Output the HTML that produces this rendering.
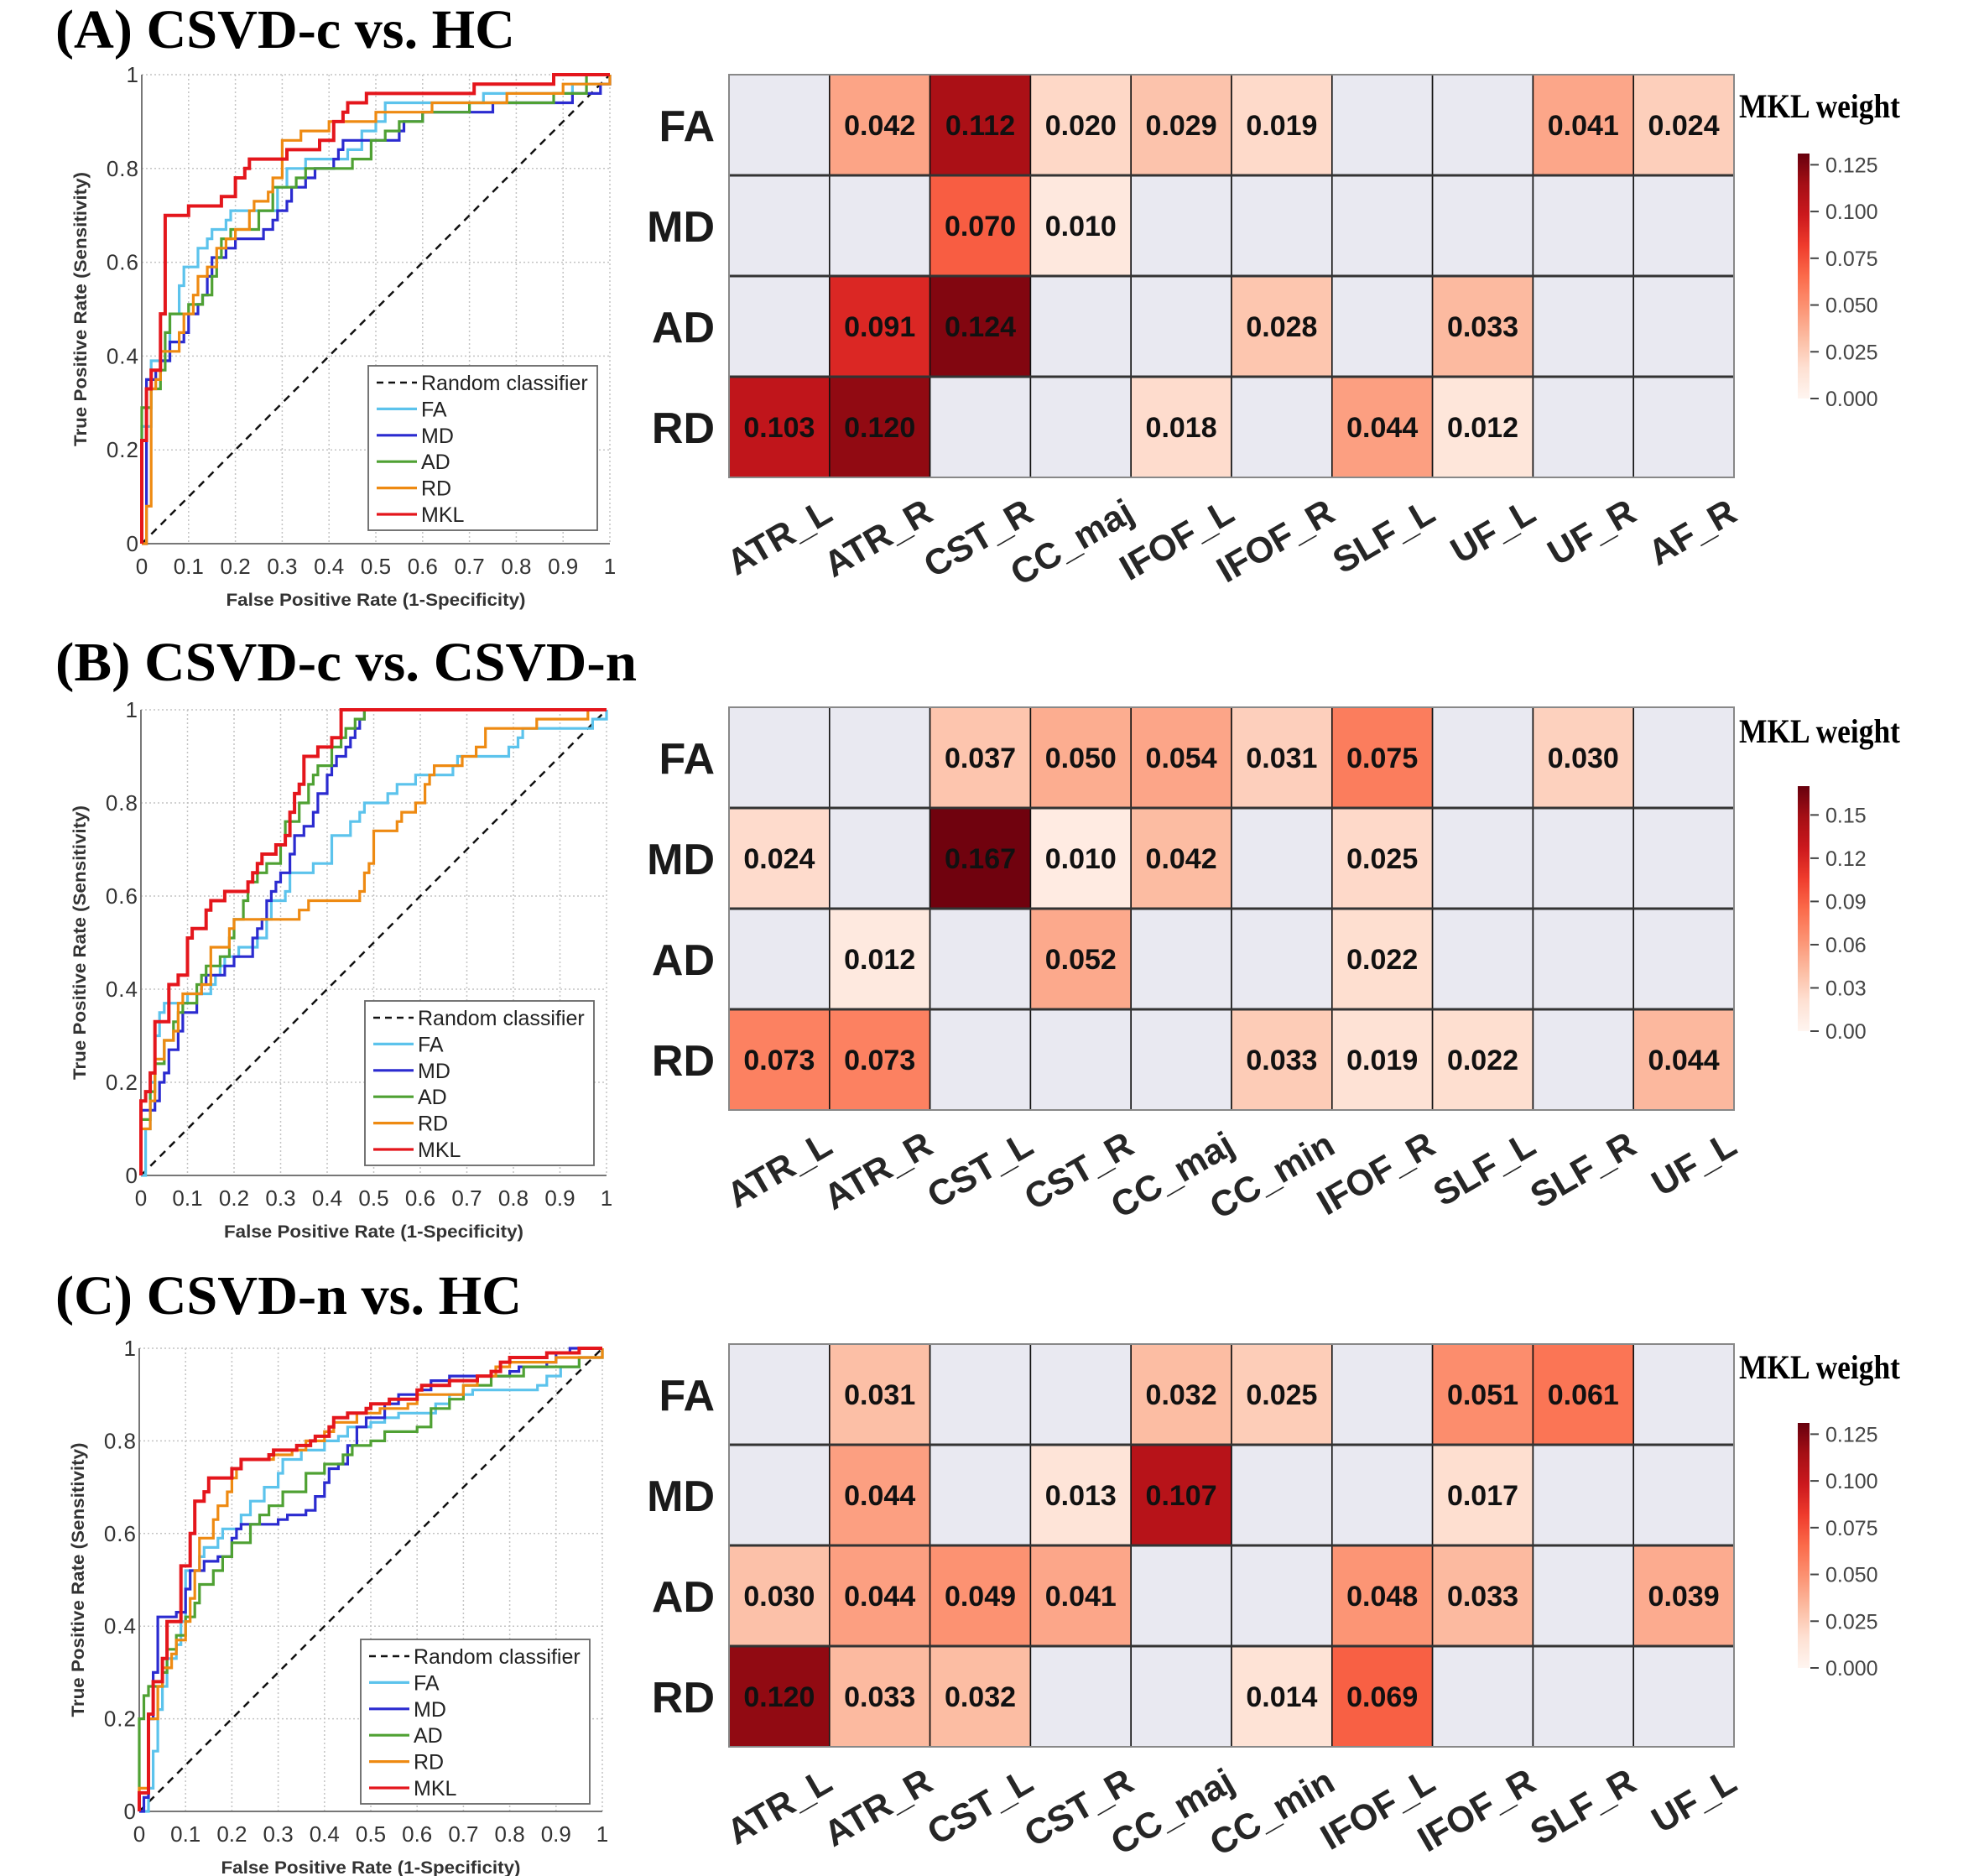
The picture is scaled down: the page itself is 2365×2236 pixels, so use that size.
<!DOCTYPE html>
<html><head><meta charset="utf-8"><style>
html,body{margin:0;padding:0;background:#fff;}
svg{display:block;}
</style></head><body>
<svg id="fig" xmlns="http://www.w3.org/2000/svg" width="2365" height="2236" viewBox="0 0 2365 2236">
<rect x="0" y="0" width="2365" height="2236" fill="#fff"/>
<g id="root"></g>
</svg>
<script>
// ---------- Heatmap data ----------
const rowNames = ["FA","MD","AD","RD"];
const colsA = ["ATR_L","ATR_R","CST_R","CC_maj","IFOF_L","IFOF_R","SLF_L","UF_L","UF_R","AF_R"];
const valsA_FA = [null,0.042,0.112,0.020,0.029,0.019,null,null,0.041,0.024];
const valsA_MD = [null,null,0.070,0.010,null,null,null,null,null,null];
const valsA_AD = [null,0.091,0.124,null,null,0.028,null,0.033,null,null];
const valsA_RD = [0.103,0.120,null,null,0.018,null,0.044,0.012,null,null];
const colsB = ["ATR_L","ATR_R","CST_L","CST_R","CC_maj","CC_min","IFOF_R","SLF_L","SLF_R","UF_L"];
const valsB_FA = [null,null,0.037,0.050,0.054,0.031,0.075,null,0.030,null];
const valsB_MD = [0.024,null,0.167,0.010,0.042,null,0.025,null,null,null];
const valsB_AD = [null,0.012,null,0.052,null,null,0.022,null,null,null];
const valsB_RD = [0.073,0.073,null,null,null,0.033,0.019,0.022,null,0.044];
const colsC = ["ATR_L","ATR_R","CST_L","CST_R","CC_maj","CC_min","IFOF_L","IFOF_R","SLF_R","UF_L"];
const valsC_FA = [null,0.031,null,null,0.032,0.025,null,0.051,0.061,null];
const valsC_MD = [null,0.044,null,0.013,0.107,null,null,0.017,null,null];
const valsC_AD = [0.030,0.044,0.049,0.041,null,null,0.048,0.033,null,0.039];
const valsC_RD = [0.120,0.033,0.032,null,null,0.014,0.069,null,null,null];
const cbarMaxA = 0.131, cbarMaxB = 0.170, cbarMaxC = 0.131;
const cbarTicksA = [0,0.025,0.05,0.075,0.1,0.125];
const cbarTicksB = [0,0.03,0.06,0.09,0.12,0.15];
const cbarTicksC = [0,0.025,0.05,0.075,0.1,0.125];

// ---------- ROC data (FPR / TPR step vertices) ----------
const A_FA_fpr=[0,0.02,0.06,0.08,0.09,0.12,0.14,0.15,0.18,0.19,0.29,0.31,0.35,0.44,0.47,0.50,0.52,0.56,0.73,0.92,1];
const A_FA_tpr=[0.25,0.39,0.49,0.55,0.59,0.63,0.65,0.67,0.69,0.71,0.76,0.80,0.82,0.84,0.88,0.90,0.94,0.94,0.96,0.98,1];
const A_MD_fpr=[0.01,0.03,0.04,0.06,0.09,0.10,0.12,0.13,0.14,0.15,0.18,0.20,0.26,0.28,0.29,0.31,0.32,0.35,0.37,0.41,0.42,0.43,0.50,0.55,0.56,0.60,0.75,0.92,0.98,1];
const A_MD_tpr=[0.35,0.37,0.39,0.43,0.45,0.49,0.51,0.53,0.57,0.61,0.63,0.65,0.67,0.69,0.71,0.73,0.76,0.78,0.80,0.82,0.84,0.86,0.86,0.88,0.90,0.92,0.94,0.96,0.98,1];
const A_AD_fpr=[0,0.02,0.04,0.05,0.06,0.10,0.13,0.15,0.16,0.17,0.19,0.25,0.28,0.33,0.35,0.45,0.49,0.52,0.55,0.60,0.70,0.88,0.95,1];
const A_AD_tpr=[0.29,0.33,0.37,0.45,0.49,0.51,0.53,0.57,0.61,0.65,0.67,0.71,0.76,0.78,0.80,0.82,0.86,0.88,0.90,0.92,0.94,0.96,1,1];
const A_RD_fpr=[0.01,0.02,0.03,0.04,0.08,0.09,0.11,0.12,0.14,0.16,0.18,0.20,0.23,0.24,0.27,0.28,0.30,0.30,0.34,0.40,0.50,0.62,0.78,0.90,1];
const A_RD_tpr=[0.08,0.33,0.35,0.41,0.45,0.49,0.53,0.57,0.59,0.63,0.65,0.67,0.71,0.73,0.75,0.78,0.82,0.86,0.88,0.90,0.92,0.94,0.96,0.98,1];
const A_MKL_fpr=[0,0.01,0.02,0.04,0.05,0.10,0.17,0.20,0.22,0.23,0.31,0.38,0.41,0.43,0.44,0.48,0.71,0.88,1];
const A_MKL_tpr=[0.22,0.33,0.37,0.49,0.70,0.72,0.74,0.78,0.80,0.82,0.84,0.86,0.90,0.92,0.94,0.96,0.98,1,1];

const B_FA_fpr=[0.01,0.02,0.03,0.04,0.05,0.10,0.15,0.16,0.17,0.18,0.21,0.25,0.27,0.28,0.31,0.32,0.37,0.41,0.45,0.47,0.48,0.53,0.55,0.59,0.67,0.68,0.79,0.81,0.82,0.97,1];
const B_FA_tpr=[0.10,0.20,0.30,0.35,0.37,0.39,0.41,0.43,0.45,0.47,0.49,0.51,0.55,0.59,0.61,0.65,0.67,0.73,0.76,0.78,0.80,0.82,0.84,0.86,0.88,0.90,0.92,0.94,0.96,0.98,1];
const B_MD_fpr=[0,0.03,0.04,0.05,0.06,0.08,0.09,0.12,0.13,0.14,0.18,0.20,0.24,0.25,0.26,0.27,0.28,0.29,0.30,0.32,0.33,0.35,0.37,0.38,0.40,0.41,0.42,0.44,0.45,0.46,0.47,0.48,1];
const B_MD_tpr=[0.14,0.16,0.20,0.22,0.27,0.31,0.35,0.39,0.41,0.43,0.45,0.47,0.51,0.53,0.55,0.59,0.61,0.63,0.65,0.69,0.73,0.75,0.78,0.82,0.86,0.88,0.90,0.92,0.94,0.96,0.98,1,1];
const B_AD_fpr=[0,0.02,0.03,0.05,0.07,0.08,0.09,0.12,0.13,0.14,0.17,0.19,0.20,0.22,0.23,0.25,0.27,0.30,0.31,0.34,0.36,0.37,0.38,0.41,0.43,0.44,0.46,0.48,1];
const B_AD_tpr=[0.12,0.18,0.24,0.29,0.33,0.35,0.37,0.41,0.43,0.45,0.47,0.51,0.55,0.59,0.63,0.65,0.67,0.71,0.76,0.80,0.84,0.86,0.88,0.92,0.94,0.96,0.98,1,1];
const B_RD_fpr=[0,0.02,0.03,0.05,0.07,0.08,0.09,0.13,0.15,0.15,0.19,0.19,0.20,0.34,0.36,0.47,0.48,0.49,0.50,0.55,0.56,0.59,0.61,0.62,0.63,0.69,0.72,0.74,0.85,0.96,1];
const B_RD_tpr=[0.10,0.16,0.25,0.29,0.31,0.37,0.39,0.41,0.45,0.49,0.51,0.53,0.55,0.57,0.59,0.61,0.65,0.67,0.74,0.76,0.78,0.80,0.84,0.86,0.88,0.90,0.92,0.96,0.98,1,1];
const B_MKL_fpr=[0,0.01,0.02,0.03,0.03,0.06,0.06,0.08,0.10,0.11,0.14,0.14,0.15,0.18,0.23,0.24,0.25,0.26,0.29,0.31,0.32,0.33,0.34,0.35,0.38,0.41,0.43,1];
const B_MKL_tpr=[0.16,0.18,0.22,0.27,0.33,0.37,0.41,0.43,0.51,0.53,0.55,0.57,0.59,0.61,0.63,0.65,0.67,0.69,0.71,0.73,0.78,0.82,0.84,0.90,0.92,0.94,1,1];

const C_FA_fpr=[0.02,0.03,0.04,0.05,0.06,0.08,0.09,0.10,0.13,0.14,0.17,0.18,0.22,0.24,0.27,0.30,0.31,0.35,0.40,0.43,0.45,0.50,0.53,0.56,0.64,0.67,0.72,0.86,0.88,0.91,0.95,1];
const C_FA_tpr=[0.05,0.13,0.22,0.27,0.33,0.36,0.41,0.52,0.55,0.57,0.59,0.61,0.64,0.67,0.70,0.73,0.76,0.78,0.80,0.81,0.83,0.84,0.85,0.86,0.88,0.90,0.91,0.92,0.94,0.96,0.98,1];
const C_MD_fpr=[0.01,0.02,0.03,0.04,0.08,0.10,0.11,0.14,0.17,0.20,0.21,0.22,0.30,0.32,0.36,0.38,0.40,0.41,0.43,0.45,0.47,0.49,0.53,0.56,0.60,0.63,0.67,0.75,0.80,0.82,0.88,0.90,0.93,1];
const C_MD_tpr=[0.03,0.20,0.30,0.42,0.43,0.48,0.52,0.54,0.55,0.59,0.61,0.62,0.63,0.64,0.65,0.68,0.71,0.74,0.75,0.79,0.83,0.85,0.88,0.90,0.91,0.93,0.94,0.94,0.95,0.96,0.97,0.99,1,1];
const C_AD_fpr=[0,0.01,0.02,0.05,0.06,0.08,0.10,0.12,0.13,0.16,0.18,0.20,0.24,0.26,0.28,0.31,0.36,0.40,0.44,0.46,0.50,0.53,0.60,0.63,0.67,0.70,0.76,0.83,0.95,1];
const C_AD_tpr=[0.20,0.25,0.27,0.30,0.35,0.38,0.42,0.45,0.49,0.52,0.55,0.58,0.62,0.64,0.66,0.69,0.73,0.75,0.77,0.79,0.80,0.82,0.83,0.87,0.89,0.92,0.94,0.96,0.98,1];
const C_RD_fpr=[0,0.02,0.04,0.05,0.07,0.08,0.10,0.11,0.12,0.13,0.16,0.17,0.19,0.20,0.21,0.22,0.29,0.33,0.36,0.40,0.42,0.47,0.52,0.58,0.60,0.70,0.73,0.77,0.80,0.90,1];
const C_RD_tpr=[0.05,0.20,0.27,0.31,0.34,0.37,0.41,0.46,0.52,0.59,0.63,0.66,0.69,0.72,0.74,0.76,0.77,0.78,0.80,0.82,0.84,0.86,0.87,0.88,0.90,0.92,0.94,0.96,0.97,0.98,1];
const C_MKL_fpr=[0,0.02,0.03,0.05,0.06,0.09,0.11,0.11,0.12,0.14,0.15,0.20,0.22,0.28,0.29,0.34,0.37,0.38,0.41,0.42,0.45,0.49,0.50,0.54,0.60,0.61,0.67,0.73,0.76,0.78,0.80,0.88,0.95,1];
const C_MKL_tpr=[0.04,0.21,0.28,0.33,0.41,0.53,0.54,0.60,0.67,0.69,0.72,0.74,0.76,0.77,0.78,0.79,0.80,0.81,0.83,0.85,0.86,0.87,0.88,0.89,0.91,0.92,0.93,0.94,0.95,0.97,0.98,0.99,1,1];

const xTickVals = [0,0.1,0.2,0.3,0.4,0.5,0.6,0.7,0.8,0.9,1];
const xTickLabels = ["0","0.1","0.2","0.3","0.4","0.5","0.6","0.7","0.8","0.9","1"];
const yTickVals = [0,0.2,0.4,0.6,0.8,1];
const yTickLabels = ["0","0.2","0.4","0.6","0.8","1"];
const seriesNames = ["FA","MD","AD","RD","MKL"];
const seriesColors = ["#5cc3ec","#2b2bd0","#4fa133","#ee8a12","#e4161c"];

// ---------- helpers ----------
const NS="http://www.w3.org/2000/svg";
const root=document.getElementById('root');
function mk(tag,attrs,parent){const e=document.createElementNS(NS,tag);for(const k in attrs)e.setAttribute(k,attrs[k]);(parent||root).appendChild(e);return e;}
const REDS=["#fff5f0","#fee0d2","#fcbba1","#fc9272","#fb6a4a","#ef3b2c","#cb181d","#a50f15","#67000d"];
function hex(c){return [parseInt(c.slice(1,3),16),parseInt(c.slice(3,5),16),parseInt(c.slice(5,7),16)];}
function reds(t){t=Math.max(0,Math.min(1,t));const p=t*8;const i=Math.min(7,Math.floor(p));const f=p-i;const a=hex(REDS[i]),b=hex(REDS[i+1]);return "rgb("+a.map((v,k)=>Math.round(v+(b[k]-v)*f)).join(",")+")";}

// ---------- titles ----------
const titles=[["(A) CSVD-c vs. HC",57,548],["(B) CSVD-c vs. CSVD-n",811,693],["(C) CSVD-n vs. HC",1566,556]];
titles.forEach((t,i)=>{
  const el=mk('text',{x:66,y:t[1],'font-family':'"Liberation Serif",serif','font-weight':'bold','font-size':66,fill:'#000',textLength:t[2],lengthAdjust:'spacingAndGlyphs'});
  
  
  el.textContent=t[0];
});

// ---------- heatmaps ----------
function heatmap(tag,top,cols,rows,cmax,ticks,dec,mklY){
  const g=mk('g',{});
  
  
  const X0=869,W=1198,H=480,cw=W/cols.length,ch=H/4;
  rows.forEach((row,r)=>{
    row.forEach((v,c)=>{
      const rc=mk('rect',{x:X0+c*cw,y:top+r*ch,width:cw,height:ch,fill:v==null?'#e9e9f1':reds(v/cmax),stroke:'#111','stroke-width':1.6},g);
      
      
      if(v!=null){
        const t=mk('text',{x:X0+c*cw+cw/2,y:top+r*ch+ch/2+12,'text-anchor':'middle','font-family':'"Liberation Sans",sans-serif','font-weight':'bold','font-size':34,fill:'#111'},g);
        
        
        t.textContent=v.toFixed(3);
      }
    });
  });
  for(let r=1;r<4;r++){mk('line',{x1:X0,x2:X0+W,y1:top+r*ch,y2:top+r*ch,stroke:'#333','stroke-width':3},g);}
  mk('rect',{x:X0,y:top,width:W,height:H,fill:'none',stroke:'#888','stroke-width':2},g);
  rowNames.forEach((n,r)=>{
    const t=mk('text',{x:852,y:top+r*ch+ch/2+19,'text-anchor':'end','font-family':'"Liberation Sans",sans-serif','font-weight':'bold','font-size':52,fill:'#1a1a1a'},g);
    
    
    t.textContent=n;
  });
  cols.forEach((n,c)=>{
    const ex=X0+c*cw+cw/2+66, ey=top+H+50;
    const t=mk('text',{x:ex,y:ey,'text-anchor':'end',transform:'rotate(-30 '+ex+' '+ey+')','font-family':'"Liberation Sans",sans-serif','font-weight':'bold','font-size':43,fill:'#262626'},g);
    
    
    t.textContent=n;
  });
  // colorbar
  const cb=mk('g',{},g);
  
  
  const zeroY=top+386, len=292, cx=2143;
  const gid='grad'+tag;
  const defs=mk('defs',{},cb);
  const lg=mk('linearGradient',{id:gid,x1:0,y1:1,x2:0,y2:0},defs);
  for(let i=0;i<=8;i++){mk('stop',{offset:(i/8),'stop-color':REDS[i]},lg);}
  mk('rect',{x:cx,y:zeroY-len,width:14,height:len,fill:'url(#'+gid+')'},cb);
  ticks.forEach(tv=>{
    const y=zeroY-tv/cmax*len;
    mk('line',{x1:cx+15,x2:cx+25,y1:y,y2:y,stroke:'#444','stroke-width':2},cb);
    const t=mk('text',{x:cx+33,y:y+9,'font-family':'"Liberation Sans",sans-serif','font-size':25,fill:'#444'},cb);
    
    
    t.textContent=tv.toFixed(dec);
  });
  const mt=mk('text',{x:2073,y:mklY,'font-family':'"Liberation Serif",serif','font-weight':'bold','font-size':40,fill:'#000',textLength:192,lengthAdjust:'spacingAndGlyphs'},g);
  
  
  mt.textContent='MKL weight';
}
heatmap('a',89,colsA,[valsA_FA,valsA_MD,valsA_AD,valsA_RD],cbarMaxA,cbarTicksA,3,140);
heatmap('b',843,colsB,[valsB_FA,valsB_MD,valsB_AD,valsB_RD],cbarMaxB,cbarTicksB,2,885);
heatmap('c',1602,colsC,[valsC_FA,valsC_MD,valsC_AD,valsC_RD],cbarMaxC,cbarTicksC,3,1643);

// ---------- ROC plots ----------
function roc(tag,ax,series){
  const g=mk('g',{});
  
  
  const sx=v=>ax.x0+v*(ax.x1-ax.x0), sy=v=>ax.y1-v*(ax.y1-ax.y0);
  xTickVals.forEach(v=>{mk('line',{x1:sx(v),x2:sx(v),y1:ax.y0,y2:ax.y1,stroke:'#c4c4c4','stroke-width':1.5,'stroke-dasharray':'2,3'},g);});
  [0,0.1,0.2,0.3,0.4,0.5,0.6,0.7,0.8,0.9,1].forEach(v=>{if(Math.round(v*10)%2===0)mk('line',{x1:ax.x0,x2:ax.x1,y1:sy(v),y2:sy(v),stroke:'#c4c4c4','stroke-width':1.5,'stroke-dasharray':'2,3'},g);});
  mk('line',{x1:ax.x0,x2:ax.x0,y1:ax.y0,y2:ax.y1,stroke:'#777','stroke-width':2},g);
  mk('line',{x1:ax.x0,x2:ax.x1,y1:ax.y1,y2:ax.y1,stroke:'#777','stroke-width':2},g);
  xTickVals.forEach((v,i)=>{
    const t=mk('text',{x:sx(v),y:ax.y1+36,'text-anchor':'middle','font-family':'"Liberation Sans",sans-serif','font-size':26,fill:'#333'},g);
    
    
    t.textContent=xTickLabels[i];
  });
  yTickVals.forEach((v,i)=>{
    const t=mk('text',{x:ax.x0-3,y:sy(v)+9,'text-anchor':'end','font-family':'"Liberation Sans",sans-serif','font-size':26,'letter-spacing':1,fill:'#333'},g);
    
    
    t.textContent=yTickLabels[i];
  });
  const my=(ax.y0+ax.y1)/2, lx=ax.x0-66;
  const yl=mk('text',{x:lx,y:my,transform:'rotate(-90 '+lx+' '+my+')','text-anchor':'middle','font-family':'"Liberation Sans",sans-serif','font-weight':'bold','font-size':21,fill:'#333',textLength:327,lengthAdjust:'spacingAndGlyphs'},g);
  
  
  yl.textContent='True Positive Rate (Sensitivity)';
  const xl=mk('text',{x:(ax.x0+ax.x1)/2,y:ax.y1+74,'text-anchor':'middle','font-family':'"Liberation Sans",sans-serif','font-weight':'bold','font-size':21,fill:'#333',textLength:357,lengthAdjust:'spacingAndGlyphs'},g);
  
  
  xl.textContent='False Positive Rate (1-Specificity)';
  const diag=mk('line',{x1:sx(0),y1:sy(0),x2:sx(1),y2:sy(1),stroke:'#111','stroke-width':2.5,'stroke-dasharray':'9,7'},g);
  
  
  series.forEach((s,i)=>{
    let d='M'+sx(0)+' '+sy(0);
    for(let k=0;k<s[0].length;k++){d+=' H'+sx(s[0][k]).toFixed(1)+' V'+sy(s[1][k]).toFixed(1);}
    const p=mk('path',{d:d,fill:'none',stroke:seriesColors[i],'stroke-width':i===4?4:3.2,'stroke-linejoin':'miter'},g);
    
    
  });
  // legend
  const lw=273,lh=196,lx0=ax.x1-15-lw,ly0=ax.y0+347;
  const lg=mk('g',{},g);
  
  
  mk('rect',{x:lx0,y:ly0,width:lw,height:lh,fill:'#fff',stroke:'#666','stroke-width':1.8},lg);
  const names=['Random classifier'].concat(seriesNames);
  names.forEach((n,i)=>{
    const cy=ly0+20+i*31.4;
    const ln=mk('line',{x1:lx0+10,x2:lx0+58,y1:cy,y2:cy,stroke:i===0?'#111':seriesColors[i-1],'stroke-width':i===0?2.5:3.2},lg);
    if(i===0)ln.setAttribute('stroke-dasharray','8,6');
    const t=mk('text',{x:lx0+63,y:cy+9,'font-family':'"Liberation Sans",sans-serif','font-size':25,fill:'#222'},lg);
    
    
    t.textContent=n;
  });
}
roc('a',{x0:169,x1:727,y0:89,y1:648},[[A_FA_fpr,A_FA_tpr],[A_MD_fpr,A_MD_tpr],[A_AD_fpr,A_AD_tpr],[A_RD_fpr,A_RD_tpr],[A_MKL_fpr,A_MKL_tpr]]);
roc('b',{x0:168,x1:723,y0:846,y1:1401},[[B_FA_fpr,B_FA_tpr],[B_MD_fpr,B_MD_tpr],[B_AD_fpr,B_AD_tpr],[B_RD_fpr,B_RD_tpr],[B_MKL_fpr,B_MKL_tpr]]);
roc('c',{x0:166,x1:718,y0:1607,y1:2159},[[C_FA_fpr,C_FA_tpr],[C_MD_fpr,C_MD_tpr],[C_AD_fpr,C_AD_tpr],[C_RD_fpr,C_RD_tpr],[C_MKL_fpr,C_MKL_tpr]]);
</script>
</body></html>
